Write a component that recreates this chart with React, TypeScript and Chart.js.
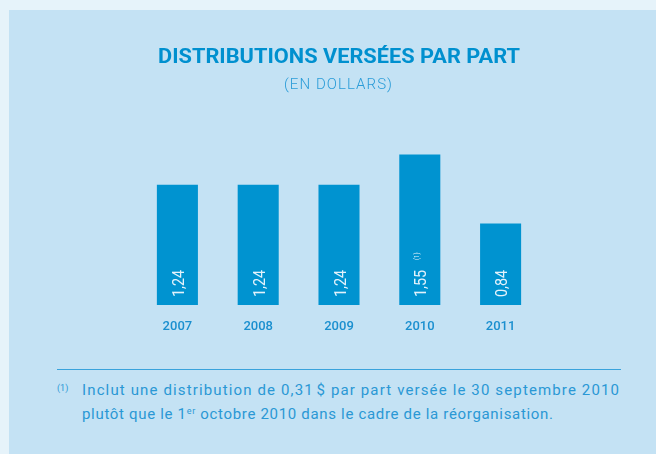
import React, { useEffect, useLayoutEffect, useRef } from "react";
import { Chart, registerables } from "chart.js";

Chart.register(...registerables);

const years = ["2007", "2008", "2009", "2010", "2011"];
const distributions = [1.24, 1.24, 1.24, 1.55, 0.84];
const valueLabels = ["1,24", "1,24", "1,24", "1,55", "0,84"];
const valueNotes = ["", "", "", "(1)", ""];
const yMax = 1.7;

const titleText = "DISTRIBUTIONS VERSÉES PAR PART";
const subtitleText = "(EN DOLLARS)";
const footnoteMark = "(1)";
const footnoteLine1 = "Inclut une distribution de 0,31\u200A$ par part versée le 30 septembre 2010";
const footnoteLine2a = "plutôt que le 1";
const footnoteLine2sup = "er";
const footnoteLine2b = " octobre 2010 dans le cadre de la réorganisation.";

const FONT = "Roboto, 'DejaVu Sans', sans-serif";
const BLUE = "#0093d0";
const NOTE_BLUE = "#2a98d5";

const barLabelPlugin = {
  id: "barLabels",
  afterDatasetsDraw(chart: any) {
    const ctx = chart.ctx as CanvasRenderingContext2D;
    const meta = chart.getDatasetMeta(0);
    const fs = 17;
    const capH = fs * 0.711;
    const sx = 0.85;
    meta.data.forEach((bar: any, i: number) => {
      const p = bar.getProps(["x", "y", "base"], true);
      ctx.save();
      ctx.translate(p.x, p.base - 8);
      ctx.rotate(-Math.PI / 2);
      ctx.scale(sx, 1);
      ctx.font = `400 ${fs}px ${FONT}`;
      ctx.fillStyle = "#e3f2fb";
      ctx.textAlign = "left";
      ctx.textBaseline = "alphabetic";
      ctx.fillText(valueLabels[i], 0, capH / 2 + 0.5);
      if (valueNotes[i]) {
        ctx.font = `400 7px ${FONT}`;
        ctx.fillText(valueNotes[i], 37 / sx, -0.5);
      }
      ctx.restore();
    });
  },
};

function fitSpacing(el: HTMLElement | null, target: number) {
  if (!el) return;
  el.style.letterSpacing = "0px";
  const w = el.getBoundingClientRect().width;
  const n = (el.textContent || "").length;
  el.style.letterSpacing = Math.max(0, (target - w) / (n - 1)) + "px";
}

export default function App() {
  const canvasRef = useRef<HTMLCanvasElement | null>(null);
  const titleRef = useRef<HTMLDivElement | null>(null);
  const subRef = useRef<HTMLDivElement | null>(null);
  const line1Ref = useRef<HTMLDivElement | null>(null);
  const line2Ref = useRef<HTMLDivElement | null>(null);

  useLayoutEffect(() => {
    const t = titleRef.current;
    if (t) {
      const w = t.getBoundingClientRect().width;
      t.style.transform = `scaleX(${362 / w})`;
    }
    fitSpacing(subRef.current, 108);
    fitSpacing(line1Ref.current, 537);
    fitSpacing(line2Ref.current, 471);
  }, []);

  useEffect(() => {
    const canvas = canvasRef.current;
    if (!canvas) return;
    const chart = new Chart(canvas, {
      type: "bar",
      data: {
        labels: years,
        datasets: [
          {
            data: distributions,
            backgroundColor: BLUE,
            borderWidth: 0,
            barPercentage: 0.508,
            categoryPercentage: 1,
          },
        ],
      },
      options: {
        responsive: false,
        animation: false,
        devicePixelRatio: 1,
        layout: { padding: { left: 137, right: 115, top: 140, bottom: 0 } },
        plugins: {
          legend: { display: false },
          tooltip: { enabled: false },
          title: { display: false },
        },
        scales: {
          x: {
            grid: { display: false, drawTicks: false },
            border: { display: false },
            ticks: {
              color: "#1a8fcf",
              padding: 14,
              font: { family: FONT, size: 13, weight: 500 as any },
            },
            afterFit: (scale: any) => {
              scale.height = 35;
            },
          },
          y: {
            display: false,
            min: 0,
            max: yMax,
          },
        },
      },
      plugins: [barLabelPlugin],
    });
    return () => chart.destroy();
  }, []);

  const abs: React.CSSProperties = {
    position: "absolute",
    whiteSpace: "nowrap",
    display: "inline-block",
    transformOrigin: "left top",
  };

  return (
    <div
      style={{
        position: "fixed",
        left: 0,
        top: 0,
        width: 656,
        height: 454,
        overflow: "hidden",
        background: "#e6f3fa",
        fontFamily: FONT,
      }}
    >
      <div
        style={{
          position: "absolute",
          left: 9,
          top: 10,
          right: 0,
          bottom: 0,
          background: "#c4e2f4",
        }}
      />
      <canvas
        ref={canvasRef}
        width={656}
        height={340}
        style={{ position: "absolute", left: 0, top: 0, width: 656, height: 340 }}
      />
      <div
        ref={titleRef}
        style={{ ...abs, left: 158, top: 46, fontSize: 20, lineHeight: "20px", fontWeight: 700, color: "#0090cf" }}
      >
        {titleText}
      </div>
      <div
        ref={subRef}
        style={{ ...abs, left: 284, top: 77, fontSize: 15, lineHeight: "15px", fontWeight: 300, color: "#2a9cd8" }}
      >
        {subtitleText}
      </div>
      <div
        style={{
          position: "absolute",
          left: 57,
          top: 369,
          width: 564,
          height: 1,
          background: "#3aa3dc",
        }}
      />
      <div
        style={{ ...abs, left: 57, top: 384, fontSize: 9, lineHeight: "9px", color: NOTE_BLUE }}
      >
        {footnoteMark}
      </div>
      <div
        ref={line1Ref}
        style={{ ...abs, left: 82, top: 383, fontSize: 15, lineHeight: "15px", color: NOTE_BLUE }}
      >
        {footnoteLine1}
      </div>
      <div
        ref={line2Ref}
        style={{ ...abs, left: 82, top: 404, fontSize: 15, lineHeight: "15px", color: NOTE_BLUE }}
      >
        {footnoteLine2a}
        <span style={{ fontSize: 9, verticalAlign: "5px" }}>{footnoteLine2sup}</span>
        {footnoteLine2b}
      </div>
    </div>
  );
}
